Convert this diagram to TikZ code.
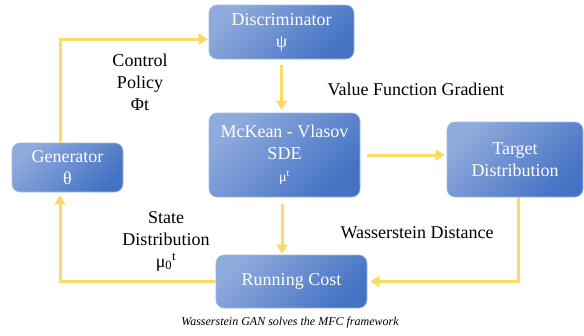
\documentclass[tikz,border=0pt]{standalone}
\usepackage{fontspec}
\setmainfont{Liberation Serif}
\usetikzlibrary{arrows.meta}
\definecolor{boxlight}{HTML}{8FAADC}
\definecolor{boxdark}{HTML}{4472C4}
\definecolor{boxline}{HTML}{A4BBE3}
\definecolor{flowgold}{HTML}{FFD966}

\begin{document}
\begin{tikzpicture}[x=1pt, y=-1pt,
    block/.style={draw=boxline, line width=0.6pt, rounded corners=8pt, left color=boxlight, right color=boxdark, shading angle=45, text=white, align=center, inner sep=0pt, font=\rmfamily\fontsize{18}{22}\selectfont},
    flow/.style={draw=flowgold, line width=3pt, -{Triangle[length=9pt,width=11pt]}},
    lbl/.style={align=center, font=\rmfamily\fontsize{18}{22}\selectfont}]
    \useasboundingbox (0,0) rectangle (584,335);
    % the five blocks
    \node[block, minimum width=145pt, minimum height=54pt] (disc) at (281.5,32) {Discriminator\\ψ};
    \node[block, minimum width=151pt, minimum height=84pt] (sde) at (284.5,155) {McKean - Vlasov\\SDE\\{\fontsize{14}{18}\selectfont μ\textsuperscript{t}}};
    \node[block, minimum width=136pt, minimum height=75pt] (target) at (515,159.5) {Target\\Distribution};
    \node[block, minimum width=111pt, minimum height=49pt] (gen) at (67.5,167.5) {Generator\\θ};
    \node[block, minimum width=151pt, minimum height=53pt] (cost) at (291.5,281.5) {Running Cost};
    % arrows
    \draw[flow, shorten >=1pt] ([xshift=-7.5pt]gen.north) |- ([yshift=-7pt]disc.west);
    \draw[flow, shorten <=6pt, shorten >=3pt] (disc.south) -- (disc.south |- sde.north);
    \draw[flow, shorten <=7pt, shorten >=2pt] (sde.east) -- (sde.east -| target.west);
    \draw[flow, shorten <=7pt, shorten >=1pt] ([xshift=-2.5pt]sde.south) -- ([xshift=-2.5pt]sde.south |- cost.north);
    \draw[flow, shorten >=3pt] ([xshift=3pt]target.south) |- (cost.east);
    \draw[flow, shorten >=3pt] (cost.west) -| ([xshift=-7.5pt]gen.south);
    % labels
    \node[lbl] (policy) at (140,82) {Control\\Policy\\Φt};
    \node[lbl] (gradient) at (416,89) {Value Function Gradient};
    \node[lbl] (wdist) at (417,233) {Wasserstein Distance};
    \node[lbl] (state) at (166,241) {State\\Distribution\\μ\textsubscript{0}\textsuperscript{t}};
    \node[font=\rmfamily\fontsize{12}{14}\selectfont\itshape] (caption) at (290,323) {Wasserstein GAN solves the MFC framework};
\end{tikzpicture}
\end{document}
